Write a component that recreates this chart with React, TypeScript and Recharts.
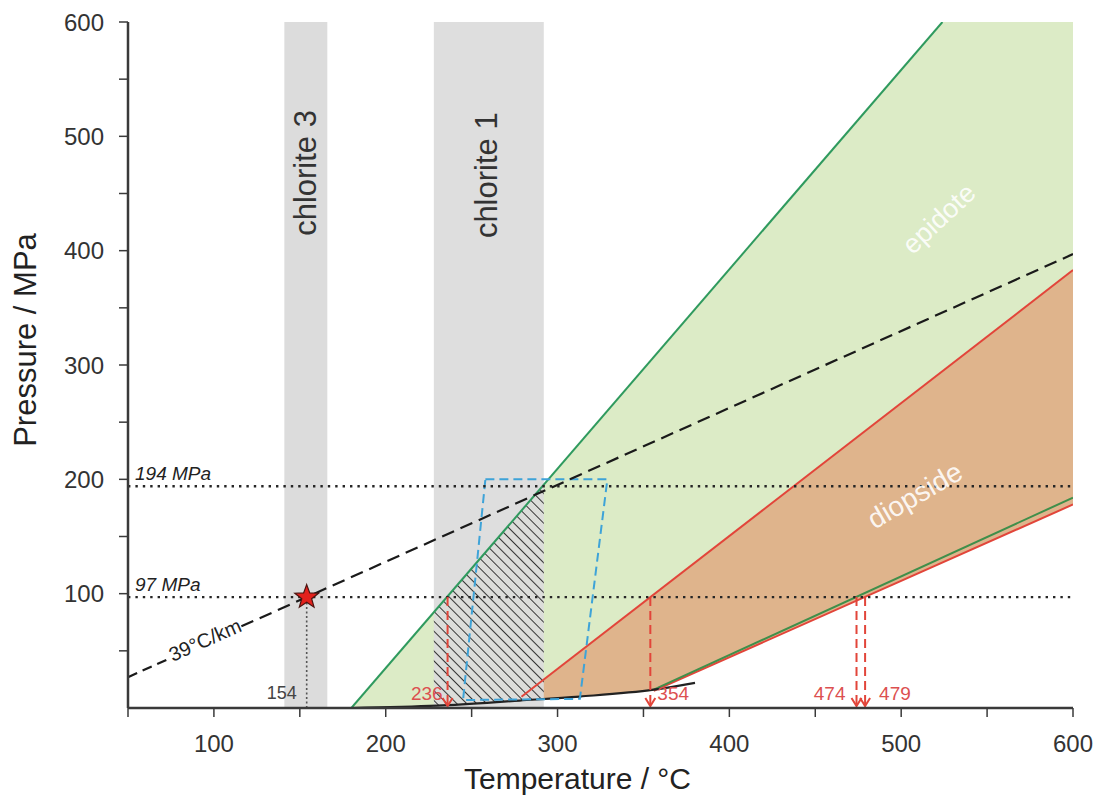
import {
  ComposedChart,
  Area,
  Line,
  Scatter,
  XAxis,
  YAxis,
  ReferenceLine,
  ReferenceDot,
  Label,
} from 'recharts'

const FONT = '"Liberation Sans", Arial, Helvetica, sans-serif'
const INK = '#333333'
const AXIS = '#3a3a3a'
const RED = '#e2453a'
const LABEL_RED = '#dc5050'
const GREEN = '#2f9a5e'
const BLUE = '#3ea3d8'

// axis ticks (°C / MPa), labelled every 100
const tempTicks = [50, 100, 150, 200, 250, 300, 350, 400, 450, 500, 550, 600]
const pressureTicks = [50, 100, 150, 200, 250, 300, 350, 400, 450, 500, 550, 600]

// chlorite thermometry windows
const chlorite3Band = [
  { t: 141, range: [0, 600] },
  { t: 166, range: [0, 600] },
]
const chlorite1Band = [
  { t: 228, range: [0, 600] },
  { t: 292, range: [0, 600] },
]

// stability fields as [lower, upper] pressure at each temperature
const epidoteField = [
  { t: 180, range: [0, 0] },
  { t: 230, range: [2, 87.2] },
  { t: 279, range: [9.8, 172.7] },
  { t: 524, range: [294.7, 600] },
  { t: 600, range: [383, 600] },
]
const diopsideField = [
  { t: 279, range: [6.5, 9.8] },
  { t: 313, range: [10, 49.3] },
  { t: 356, range: [15, 99.3] },
  { t: 600, range: [178, 383] },
]
const hatchedWindow = [
  { t: 228, range: [2, 83.7] },
  { t: 292, range: [7.5, 195.3] },
]

// reaction boundaries
const epidoteBoundary = [
  { t: 180, p: 0 },
  { t: 524, p: 600 },
]
const diopsideBoundary = [
  { t: 279, p: 9.8 },
  { t: 600, p: 383 },
]
const lowerGreenBoundary = [
  { t: 356, p: 16 },
  { t: 600, p: 184 },
]
const lowerRedBoundary = [
  { t: 356, p: 15 },
  { t: 600, p: 178 },
]
const baseCurve = [
  { t: 180, p: 0 },
  { t: 230, p: 2 },
  { t: 278, p: 6.5 },
  { t: 313, p: 10 },
  { t: 356, p: 16 },
  { t: 380, p: 22 },
]
const blueBox = [
  { t: 258, p: 200 },
  { t: 329, p: 200 },
  { t: 313, p: 8 },
  { t: 245, p: 7 },
  { t: 258, p: 200 },
]

// 39 °C/km geotherm, broken where its label sits
const geothermLow = [
  { t: 50, p: 27 },
  { t: 74, p: 43.2 },
]
const geothermHigh = [
  { t: 116, p: 71.4 },
  { t: 600, p: 397 },
]

const sample = [{ t: 154, p: 97 }]
const pressureLevels = [194, 97]
const dropTemps = [236, 354, 474, 479]
const dropFrom = 97

const tickLabel = (v: number) => (v % 100 === 0 ? String(v) : '')
const noLabel = () => ''

function Star(props: any) {
  const { cx, cy } = props
  const outer = 12.5
  const inner = 5.2
  const pts: string[] = []
  for (let i = 0; i < 10; i++) {
    const r = i % 2 === 0 ? outer : inner
    const a = -Math.PI / 2 + (i * Math.PI) / 5
    pts.push(`${cx + r * Math.cos(a)},${cy + r * Math.sin(a)}`)
  }
  return <polygon points={pts.join(' ')} fill="#e3211c" stroke="#4a1410" strokeWidth={1.2} />
}

function DropArrow(props: any) {
  const { x1, y1, x2, y2 } = props
  return (
    <g>
      <line x1={x1} y1={y1} x2={x2} y2={y2 - 3} stroke={RED} strokeWidth={2} strokeDasharray="9 5" />
      <path
        d={`M${x2 - 5},${y2 - 10} L${x2},${y2 - 2} L${x2 + 5},${y2 - 10}`}
        fill="none"
        stroke={RED}
        strokeWidth={2}
      />
    </g>
  )
}

// text anchored at a data point, drawn through ReferenceDot's shape
function textAt(
  value: string,
  opts: { dx?: number; dy?: number; angle?: number; size: number; fill: string; anchor?: string; italic?: boolean; opacity?: number; center?: boolean },
) {
  return (p: any) => {
    const x = p.cx + (opts.dx ?? 0)
    const y = p.cy + (opts.dy ?? 0)
    return (
      <text
        x={x}
        y={y}
        transform={opts.angle ? `rotate(${opts.angle} ${x} ${y})` : undefined}
        textAnchor={opts.anchor ?? 'middle'}
        dominantBaseline={opts.center ? 'central' : 'auto'}
        fontFamily={FONT}
        fontSize={opts.size}
        fontStyle={opts.italic ? 'italic' : 'normal'}
        fill={opts.fill}
        fillOpacity={opts.opacity ?? 1}
      >
        {value}
      </text>
    )
  }
}

function XTitle(props: any) {
  const vb = props.viewBox
  return (
    <text
      x={vb.x + vb.width / 2 - 23}
      y={vb.y + vb.height - 8}
      textAnchor="middle"
      fontFamily={FONT}
      fontSize={30}
      fill="#222"
    >
      Temperature / °C
    </text>
  )
}

function YTitle(props: any) {
  const vb = props.viewBox
  const x = vb.x + 25
  const y = vb.y + vb.height / 2 - 25
  return (
    <text
      x={x}
      y={y}
      transform={`rotate(-90 ${x} ${y})`}
      textAnchor="middle"
      dominantBaseline="central"
      fontFamily={FONT}
      fontSize={31}
      fill="#222"
    >
      Pressure / MPa
    </text>
  )
}

const dropLabelDx = [-5, 7, -11, 14]

export default function App() {
  const axisLine = { stroke: AXIS, strokeWidth: 2.5 }
  const tickLine = { stroke: AXIS, strokeWidth: 1.5 }
  const tickStyle = { fill: INK, fontSize: 24, fontFamily: FONT }

  return (
    <div style={{ position: 'absolute', left: 0, top: 0, background: '#fff' }}>
      <ComposedChart width={1101} height={797} margin={{ top: 22, right: 28, left: 0, bottom: 0 }}>
        <defs>
          <pattern id="hatch" patternUnits="userSpaceOnUse" width="7" height="7" patternTransform="rotate(-45)">
            <line x1="0" y1="0" x2="0" y2="7" stroke="#222" strokeWidth="1.8" />
          </pattern>
        </defs>

        <XAxis
          dataKey="t"
          type="number"
          domain={[50, 600]}
          ticks={tempTicks}
          tickFormatter={tickLabel}
          allowDataOverflow
          height={89}
          axisLine={axisLine}
          tickLine={tickLine}
          tickSize={9}
          tickMargin={18}
          tick={tickStyle}
        >
          <Label content={<XTitle />} />
        </XAxis>
        <XAxis
          xAxisId="top"
          orientation="top"
          dataKey="t"
          type="number"
          domain={[50, 600]}
          ticks={tempTicks}
          tickFormatter={noLabel}
          allowDataOverflow
          height={0}
          axisLine={axisLine}
          tickLine={tickLine}
          tickSize={9}
        />
        <YAxis
          type="number"
          domain={[0, 600]}
          ticks={pressureTicks}
          tickFormatter={tickLabel}
          allowDataOverflow
          width={128}
          axisLine={axisLine}
          tickLine={tickLine}
          tickSize={9}
          tickMargin={15}
          tick={tickStyle}
        >
          <Label content={<YTitle />} />
        </YAxis>
        <YAxis
          yAxisId="right"
          orientation="right"
          type="number"
          domain={[0, 600]}
          ticks={pressureTicks}
          tickFormatter={noLabel}
          allowDataOverflow
          width={0}
          axisLine={axisLine}
          tickLine={tickLine}
          tickSize={9}
        />

        {/* stability fields */}
        <Area data={epidoteField} dataKey="range" type="linear" fill="#dcebc6" fillOpacity={1} stroke="none" isAnimationActive={false} />
        <Area data={diopsideField} dataKey="range" type="linear" fill="#dfb48c" fillOpacity={1} stroke="none" isAnimationActive={false} />

        {/* chlorite windows */}
        <Area data={chlorite3Band} dataKey="range" type="linear" fill="#dcdcdc" fillOpacity={1} stroke="none" isAnimationActive={false} />
        <Area data={chlorite1Band} dataKey="range" type="linear" fill="#dcdcdc" fillOpacity={0.93} stroke="none" isAnimationActive={false} />
        <Area data={hatchedWindow} dataKey="range" type="linear" fill="url(#hatch)" fillOpacity={1} stroke="none" isAnimationActive={false} />

        {/* reaction boundaries */}
        <Line data={epidoteBoundary} dataKey="p" type="linear" stroke={GREEN} strokeWidth={2} dot={false} activeDot={false} isAnimationActive={false} />
        <Line data={diopsideBoundary} dataKey="p" type="linear" stroke={RED} strokeWidth={2} dot={false} activeDot={false} isAnimationActive={false} />
        <Line data={lowerRedBoundary} dataKey="p" type="linear" stroke={RED} strokeWidth={2} dot={false} activeDot={false} isAnimationActive={false} />
        <Line data={lowerGreenBoundary} dataKey="p" type="linear" stroke="#3f8f4a" strokeWidth={2} dot={false} activeDot={false} isAnimationActive={false} />
        <Line data={baseCurve} dataKey="p" type="monotone" stroke="#222" strokeWidth={2.2} dot={false} activeDot={false} isAnimationActive={false} />
        <Line data={blueBox} dataKey="p" type="linear" stroke={BLUE} strokeWidth={2} strokeDasharray="9 5" dot={false} activeDot={false} isAnimationActive={false} />

        {/* geotherm */}
        <Line data={geothermLow} dataKey="p" type="linear" stroke="#1a1a1a" strokeWidth={2.2} strokeDasharray="10 6" dot={false} activeDot={false} isAnimationActive={false} />
        <Line data={geothermHigh} dataKey="p" type="linear" stroke="#1a1a1a" strokeWidth={2.2} strokeDasharray="13 7" dot={false} activeDot={false} isAnimationActive={false} />

        {pressureLevels.map((p) => (
          <ReferenceLine key={`lvl-${p}`} y={p} stroke="#262626" strokeWidth={2.4} strokeDasharray="2.4 5" />
        ))}
        {pressureLevels.map((p) => (
          <ReferenceDot
            key={`lvl-label-${p}`}
            x={50}
            y={p}
            shape={textAt(`${p} MPa`, { dx: 7, dy: -6, size: 19, fill: '#222', anchor: 'start', italic: true })}
          />
        ))}

        <ReferenceLine
          segment={[
            { x: sample[0].t, y: 0 },
            { x: sample[0].t, y: sample[0].p },
          ]}
          stroke="#555"
          strokeWidth={1.6}
          strokeDasharray="2 2.5"
        />
        <ReferenceDot
          x={sample[0].t}
          y={0}
          shape={textAt(String(sample[0].t), { dx: -10, dy: -9, size: 18, fill: '#444', anchor: 'end' })}
        />

        {dropTemps.map((t) => (
          <ReferenceLine
            key={`drop-${t}`}
            segment={[
              { x: t, y: dropFrom },
              { x: t, y: 0 },
            ]}
            shape={<DropArrow />}
          />
        ))}
        {dropTemps.map((t, i) => (
          <ReferenceDot
            key={`drop-label-${t}`}
            x={t}
            y={0}
            shape={textAt(String(t), {
              dx: dropLabelDx[i],
              dy: -8,
              size: 19,
              fill: LABEL_RED,
              anchor: dropLabelDx[i] < 0 ? 'end' : 'start',
            })}
          />
        ))}

        {/* field and window labels */}
        <ReferenceDot x={153.6} y={468} shape={textAt('chlorite 3', { angle: -90, size: 31, fill: INK, center: true })} />
        <ReferenceDot x={258.7} y={466} shape={textAt('chlorite 1', { angle: -90, size: 31, fill: INK, center: true })} />
        <ReferenceDot x={522} y={428} shape={textAt('epidote', { angle: -43, size: 27, fill: '#ffffff', opacity: 0.9, center: true })} />
        <ReferenceDot x={508} y={186} shape={textAt('diopside', { angle: -30, size: 28, fill: '#ffffff', opacity: 0.9, center: true })} />
        <ReferenceDot x={94.8} y={59.5} shape={textAt('39°C/km', { angle: -24, size: 20, fill: '#222', center: true })} />

        <Scatter data={sample} dataKey="p" shape={<Star />} isAnimationActive={false} />
      </ComposedChart>
    </div>
  )
}
